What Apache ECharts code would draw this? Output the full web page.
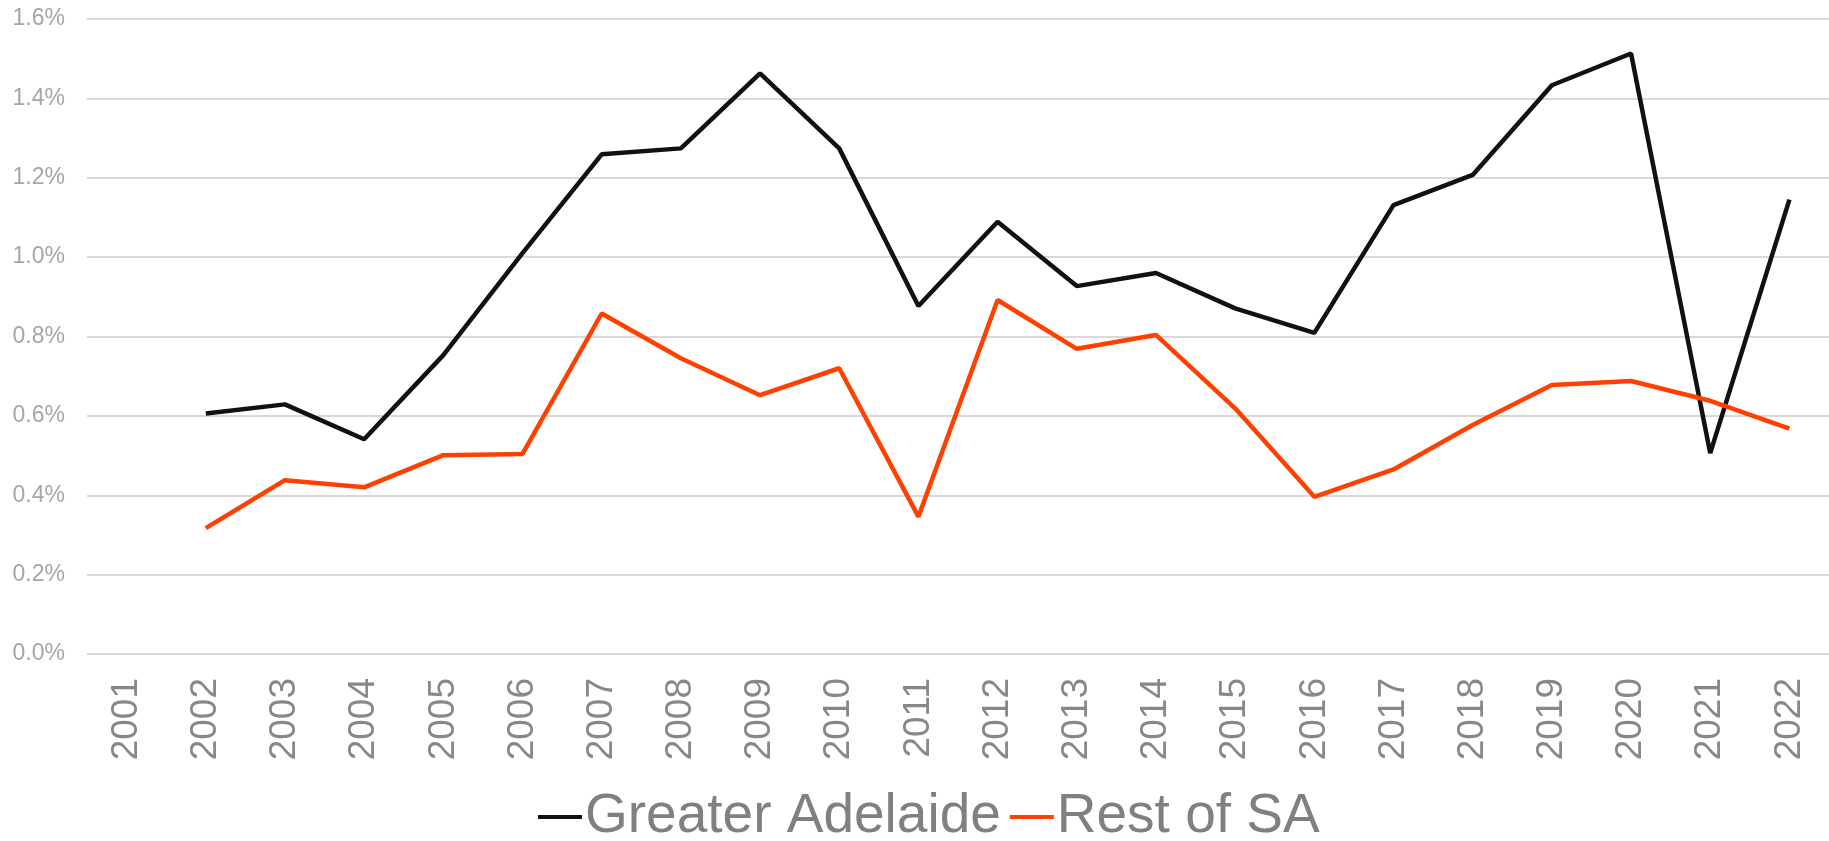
<!DOCTYPE html>
<html>
<head>
<meta charset="utf-8">
<script src="https://cdn.jsdelivr.net/npm/echarts@6/dist/echarts.min.js"></script>
<style>
html,body{margin:0;padding:0;background:#fff;}
#chart{width:1829px;height:841px;}
</style>
</head>
<body>
<div id="chart"></div>
<script>
const years = ['2001','2002','2003','2004','2005','2006','2007','2008','2009','2010','2011','2012','2013','2014','2015','2016','2017','2018','2019','2020','2021','2022'];
const greaterAdelaide = [null,0.606,0.629,0.541,0.753,1.010,1.259,1.274,1.463,1.274,0.877,1.089,0.927,0.960,0.871,0.809,1.131,1.207,1.433,1.513,0.506,1.145];
const restOfSA = [null,0.317,0.438,0.420,0.501,0.504,0.858,0.745,0.652,0.720,0.346,0.892,0.769,0.804,0.619,0.396,0.465,0.577,0.678,0.688,0.638,0.568];
const seriesNames = ['Greater Adelaide','Rest of SA'];
const yTicks = {min:0, max:1.6, interval:0.2};

const chart = echarts.init(document.getElementById('chart'), null, {renderer:'canvas'});
const sans = '"Liberation Sans", Arial, sans-serif';
chart.setOption({
  animation:false,
  backgroundColor:'#ffffff',
  grid:{left:87, right:0, top:19, bottom:187, containLabel:false},
  legend:{
    data:seriesNames,
    top:786,
    left:538,
    padding:0,
    itemWidth:44,
    itemHeight:4,
    itemGap:9,
    icon:'rect',
    textStyle:{fontFamily:sans, fontSize:55, lineHeight:62, color:'#808080', padding:[0,0,0,-2]}
  },
  xAxis:{
    type:'category',
    data:years,
    boundaryGap:true,
    axisLine:{show:false},
    axisTick:{show:false},
    axisLabel:{rotate:90, margin:24, fontFamily:sans, fontSize:37, color:'#888888', interval:0}
  },
  yAxis:{
    type:'value',
    min:yTicks.min, max:yTicks.max, interval:yTicks.interval,
    axisLine:{show:false},
    axisTick:{show:false},
    splitLine:{lineStyle:{color:'#d9d9d9', width:2}},
    axisLabel:{margin:22, fontFamily:sans, fontSize:23, color:'#a6a6a6',
      formatter:v=>v.toFixed(1)+'%'}
  },
  series:[
    {name:seriesNames[0], type:'line', data:greaterAdelaide, symbol:'none', color:'#111111',
     lineStyle:{width:4.5, color:'#111111'}, connectNulls:false},
    {name:seriesNames[1], type:'line', data:restOfSA, symbol:'none', color:'#ff4000',
     lineStyle:{width:4.5, color:'#ff4000'}, connectNulls:false}
  ]
});
</script>
</body>
</html>
